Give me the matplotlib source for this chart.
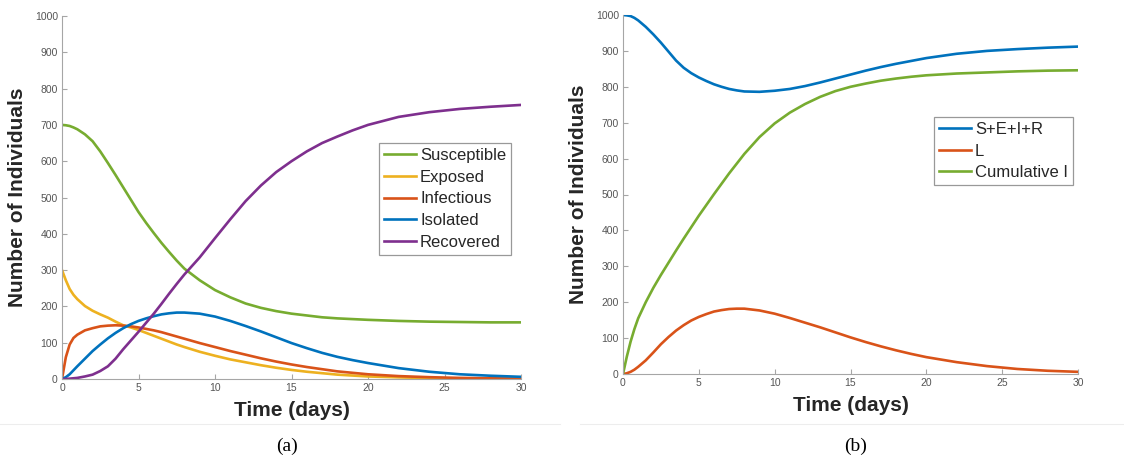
import matplotlib.pyplot as plt
from matplotlib.lines import Line2D

plt.rcParams['font.family'] = ['Liberation Sans', 'DejaVu Sans']

# tiempo en dias (mismo para los dos paneles)
tiempo = [0, 0.25, 0.5, 0.75, 1, 1.5, 2, 2.5, 3, 3.5, 4, 4.5, 5, 5.5, 6, 6.5, 7, 7.5, 8,
          9, 10, 11, 12, 13, 14, 15, 16, 17, 18, 19, 20, 22, 24, 26, 28, 30]

# (a) compartimentos del modelo
susceptible = [700, 699, 697, 693, 688, 674, 655, 627, 595, 562, 528, 494, 460, 430, 402, 375, 350, 326, 304,
               272, 245, 225, 208, 196, 187, 180, 175, 170, 167, 165, 163, 160, 158, 157, 156, 156]
exposed = [300, 272, 248, 232, 220, 201, 188, 178, 169, 158, 148, 142, 135, 127, 119, 111, 103, 95, 88,
           75, 64, 54, 46, 38, 31, 25, 20, 16, 12, 9.5, 7, 4.5, 2.5, 1.5, 1, 0.5]
infectious = [0, 60, 95, 113, 122, 134, 140, 145, 147, 148, 147, 145, 142, 138, 134, 129, 123, 117, 111,
              99, 88, 77, 67, 57, 48, 40, 33, 27, 21, 17, 13, 8, 5, 3, 2, 1]
isolated = [0, 5, 13, 24, 35, 56, 77, 95, 112, 127, 140, 151, 160, 167, 173, 178, 181, 183, 183,
            180, 172, 160, 146, 131, 115, 99, 85, 72, 61, 52, 44, 30, 20, 13, 9, 6]
recovered = [0, 0, 1, 2, 3, 7, 12, 22, 35, 56, 82, 106, 130, 155, 180, 207, 235, 262, 288,
             335, 388, 440, 490, 533, 570, 600, 627, 650, 668, 685, 700, 722, 735, 744, 750, 755]
labelsA = ['Susceptible', 'Exposed', 'Infectious', 'Isolated', 'Recovered']

# (b) totales
totalSEIR = [1000, 999, 997, 992, 985, 967, 946, 923, 898, 873, 853, 838, 826, 816, 807, 800, 794, 790, 787,
             786, 789, 794, 802, 812, 823, 834, 845, 855, 864, 872, 880, 892, 900, 905, 909, 912]
totalL = [0, 2, 6, 12, 20, 38, 60, 83, 103, 121, 136, 149, 159, 167, 174, 178, 181, 182, 182,
          177, 168, 156, 143, 130, 116, 102, 89, 77, 66, 56, 47, 33, 22, 14, 9, 6]
cumulativeI = [0, 48, 90, 125, 155, 200, 240, 276, 310, 344, 377, 409, 441, 471, 501, 530, 559, 586, 613,
               660, 698, 728, 752, 772, 788, 800, 809, 817, 823, 828, 832, 837, 840, 843, 845, 846]
labelsB = ['S+E+I+R', 'L', 'Cumulative I']

# colores por defecto de MATLAB
azul = '#0072BD'
naranja = '#D95319'
amarillo = '#EDB120'
morado = '#7E2F8E'
verde = '#77AC30'

fig = plt.figure(figsize=(11.24, 4.59), dpi=100)
axA = fig.add_axes([62 / 1124, 80 / 459, 459 / 1124, 363 / 459])
axB = fig.add_axes([623 / 1124, 85 / 459, 455 / 1124, 359 / 459])


def estilo(ax):
    ax.set_xlim(0, 30)
    ax.set_ylim(0, 1000)
    ax.set_xticks(range(0, 31, 5))
    ax.set_yticks(range(0, 1001, 100))
    ax.spines['top'].set_visible(False)
    ax.spines['right'].set_visible(False)
    ax.spines['left'].set_color('#a6a6a6')
    ax.spines['bottom'].set_color('#a6a6a6')
    ax.tick_params(direction='in', length=3.5, width=0.8, color='#a6a6a6',
                   labelsize=7.5, labelcolor='#555555', pad=3)
    ax.set_xlabel('Time (days)', fontsize=15, fontweight='bold', color='#262626')
    ax.set_ylabel('Number of Individuals', fontsize=15, fontweight='bold', color='#262626')
    ax.xaxis.set_label_coords(0.5, -0.06)
    ax.yaxis.set_label_coords(-0.077, 0.5)


lw = 1.9
axA.plot(tiempo, susceptible, color=verde, lw=lw, label=labelsA[0])
axA.plot(tiempo, exposed, color=amarillo, lw=lw, label=labelsA[1])
axA.plot(tiempo, infectious, color=naranja, lw=lw, label=labelsA[2])
axA.plot(tiempo, isolated, color=azul, lw=lw, label=labelsA[3])
axA.plot(tiempo, recovered, color=morado, lw=lw, label=labelsA[4])
estilo(axA)

axB.plot(tiempo, totalSEIR, color=azul, lw=lw, label=labelsB[0])
axB.plot(tiempo, totalL, color=naranja, lw=lw, label=labelsB[1])
axB.plot(tiempo, cumulativeI, color=verde, lw=lw, label=labelsB[2])
estilo(axB)

for ax, pos in [(axA, (0.691, 0.650)), (axB, (0.684, 0.716))]:
    leg = ax.legend(loc='upper left', bbox_to_anchor=pos, fontsize=12, frameon=True,
                    fancybox=False, framealpha=1, edgecolor='#999999',
                    handlelength=1.9, handletextpad=0.25, borderpad=0.3,
                    labelspacing=0.4, borderaxespad=0)
    leg.get_frame().set_linewidth(0.9)
    for txt in leg.get_texts():
        txt.set_color('#262626')

# linea gris tenue bajo las figuras
fig.add_artist(Line2D([0, 0.498], [1 - 424 / 459] * 2, color='#ededed', lw=0.8))
fig.add_artist(Line2D([0.516, 1], [1 - 424 / 459] * 2, color='#ededed', lw=0.8))

# etiquetas de los paneles
fig.text(287 / 1124, 1 - 446 / 459, '(a)', fontsize=14, family=['Liberation Serif', 'DejaVu Serif'],
         ha='center', va='center')
fig.text(856 / 1124, 1 - 446 / 459, '(b)', fontsize=14, family=['Liberation Serif', 'DejaVu Serif'],
         ha='center', va='center')

plt.savefig('out.png', dpi=100)
